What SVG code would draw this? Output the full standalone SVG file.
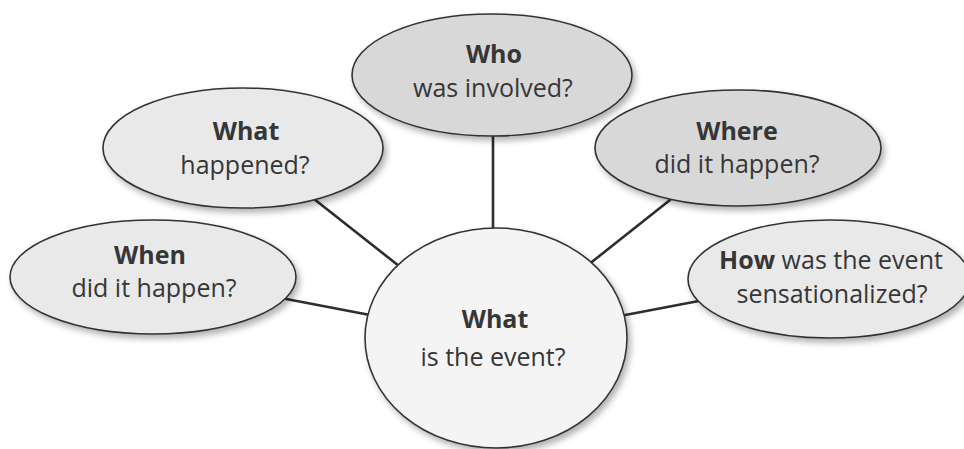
<svg xmlns="http://www.w3.org/2000/svg" width="964" height="449" viewBox="0 0 964 449">
<defs>
<filter id="sh" x="-10%" y="-10%" width="125%" height="130%">
<feDropShadow dx="3" dy="4" stdDeviation="3" flood-color="#000" flood-opacity="0.3"/>
</filter>
</defs>
<style>
.node ellipse{stroke:#333;stroke-width:1.6;filter:url(#sh)}
.dark{fill:#d8d8d8}
.light{fill:#e9e9e9}
.center{fill:#f4f4f4}
text{font-family:"Open Sans","Noto Sans",sans-serif;font-size:25px;fill:#363636;text-anchor:middle}
.b{font-weight:bold}
#connectors line{stroke:#2e2e2e;stroke-width:2.6;stroke-linecap:round}
</style>
<rect width="964" height="449" fill="#ffffff"/>
<g id="connectors">
<line x1="493" y1="130" x2="493" y2="232"/>
<line x1="314" y1="199" x2="399" y2="266"/>
<line x1="281" y1="298" x2="370" y2="315"/>
<line x1="670" y1="200" x2="588" y2="265"/>
<line x1="620" y1="316" x2="704" y2="300"/>
</g>
<g id="node-who" class="node">
<ellipse class="dark" cx="492" cy="75" rx="140" ry="61"/>
<text x="494" y="63" class="b">Who</text>
<text x="493" y="97">was involved?</text>
</g>
<g id="node-what-happened" class="node">
<ellipse class="light" cx="243" cy="148" rx="140" ry="60"/>
<text x="246" y="140" class="b">What</text>
<text x="245" y="174">happened?</text>
</g>
<g id="node-where" class="node">
<ellipse class="dark" cx="738" cy="148" rx="143" ry="58"/>
<text x="737" y="140" class="b">Where</text>
<text x="737" y="173">did it happen?</text>
</g>
<g id="node-when" class="node">
<ellipse class="light" cx="153" cy="277" rx="143" ry="57"/>
<text x="150" y="264" class="b">When</text>
<text x="154" y="297">did it happen?</text>
</g>
<g id="node-how" class="node">
<ellipse class="light" cx="829" cy="279" rx="141" ry="59"/>
<text x="831" y="269"><tspan class="b">How</tspan> was the event</text>
<text x="832" y="303">sensationalized?</text>
</g>
<g id="node-center" class="node">
<ellipse class="center" cx="496" cy="338" rx="131" ry="110"/>
<text x="495" y="328" class="b">What</text>
<text x="493" y="366">is the event?</text>
</g>
</svg>
